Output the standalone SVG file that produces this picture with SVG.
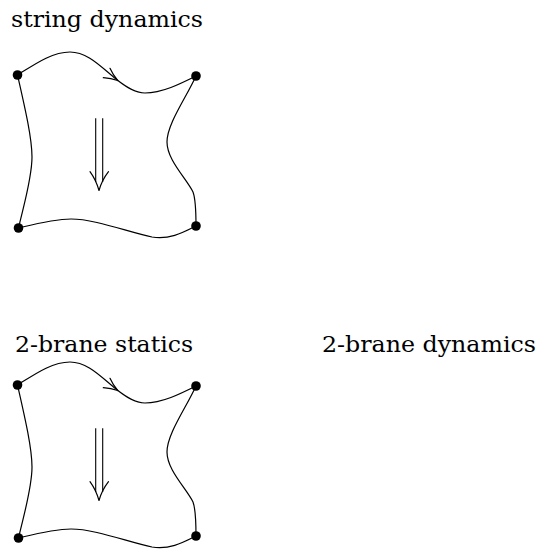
<svg xmlns="http://www.w3.org/2000/svg" width="538" height="550" viewBox="0 0 538 550">
<style>
text{font-size:22.5px;fill:#000}
.edge{fill:none;stroke:#000;stroke-width:1.2;stroke-linecap:round;stroke-linejoin:round}
.dbl{fill:none;stroke:#000;stroke-width:1.1}
.dot{fill:#000}
</style>
<defs>
<g id="sheet">
<g class="connectors">
<path class="edge" d="M17.5,75 C35,64 52,52 70,52 C88,52 102,68 116,79 C126,87 135,93 145,93 C162,93 180,84 196,76"/>
<path class="edge" d="M103.3,77.7 Q111,78.5 117.7,80.5 M110,68.3 Q113,75 117.7,80.5"/>
<path class="edge" d="M17.5,75 C25,108 32,138 32,157 C32,178 24,204 18.5,228"/>
<path class="edge" d="M196,76 C186,98 167,124 167,142 C167,160 186,178 193,192 C196,200 196,214 196,226"/>
<path class="edge" d="M18.5,228 C35,224 54,219 71,219 C95,219 128,232 152,237 C170,240 184,232 196,226"/>
<path class="dbl" d="M95.7,118.3 V182 M102.7,118.3 V182"/>
<path class="edge" d="M90,171.7 Q96,180 99,190.5 Q102,180 108.5,171.7"/>
</g>
<circle class="dot" cx="17.5" cy="75" r="4.8"/>
<circle class="dot" cx="196" cy="76" r="4.8"/>
<circle class="dot" cx="18.5" cy="228" r="4.8"/>
<circle class="dot" cx="196" cy="226" r="4.8"/>
</g>
</defs>
<g id="string-dynamics">
<text x="11" y="27" font-family="DejaVu Serif, Liberation Serif, serif" textLength="192" lengthAdjust="spacingAndGlyphs">string dynamics</text>
<use href="#sheet"/>
</g>
<g id="brane-statics">
<text x="15" y="351.5" font-family="DejaVu Serif, Liberation Serif, serif" textLength="178" lengthAdjust="spacingAndGlyphs">2-brane statics</text>
<use href="#sheet" transform="translate(0,310)"/>
</g>
<g id="brane-dynamics">
<text x="322" y="351.5" font-family="DejaVu Serif, Liberation Serif, serif" textLength="214" lengthAdjust="spacingAndGlyphs">2-brane dynamics</text>
</g>
</svg>
